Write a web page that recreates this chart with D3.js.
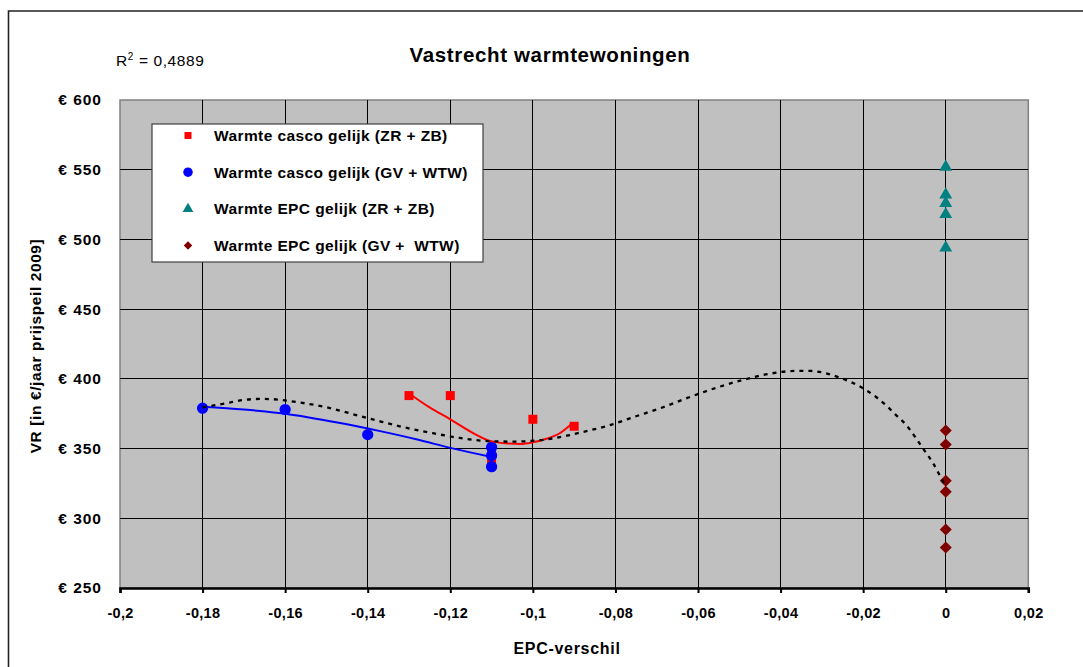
<!DOCTYPE html>
<html>
<head>
<meta charset="utf-8">
<script src="https://cdn.jsdelivr.net/npm/d3@7"></script>
<style>
  html, body { margin: 0; padding: 0; background: #fff; }
  svg { display: block; font-family: "Liberation Sans", Arial, sans-serif; }
</style>
</head>
<body>
<svg id="chart" width="1083" height="667"></svg>
<script>
// ---------- data ----------
const xTicks = [-0.2, -0.18, -0.16, -0.14, -0.12, -0.1, -0.08, -0.06, -0.04, -0.02, 0, 0.02];
const xTickLabels = ["-0,2", "-0,18", "-0,16", "-0,14", "-0,12", "-0,1", "-0,08", "-0,06", "-0,04", "-0,02", "0", "0,02"];
const yTicks = [250, 300, 350, 400, 450, 500, 550, 600];
const yTickLabels = ["€ 250", "€ 300", "€ 350", "€ 400", "€ 450", "€ 500", "€ 550", "€ 600"];

const seriesNames = ["Warmte casco gelijk (ZR + ZB)", "Warmte casco gelijk (GV + WTW)", "Warmte EPC gelijk (ZR + ZB)", "Warmte EPC gelijk (GV +  WTW)"];

const redX = [-0.13, -0.12, -0.11, -0.11, -0.1, -0.09];
const redY = [388, 388, 350, 342, 371, 366];

const blueX = [-0.18, -0.16, -0.14, -0.11, -0.11, -0.11];
const blueY = [379, 378, 360, 351, 345, 337];

const tealX = [0, 0, 0, 0, 0];
const tealY = [552, 532, 526, 518, 494];

const darkX = [0, 0, 0, 0, 0, 0];
const darkY = [363, 353, 327, 319, 292, 279];

// trendlines
const redTrendX = [-0.1297, -0.125, -0.12, -0.115, -0.1104, -0.106, -0.103, -0.1, -0.0965, -0.0935, -0.0905];
const redTrendY = [389, 379.5, 371, 362, 355.5, 353.6, 353.3, 354.5, 357.2, 361, 368];

const blueTrendX = [-0.18, -0.17, -0.16, -0.147, -0.137, -0.128, -0.12, -0.11];
const blueTrendY = [380, 378, 375, 368.5, 362.5, 356.5, 350.5, 344];

const allTrendX = [-0.18, -0.1734, -0.1697, -0.166, -0.163, -0.1564, -0.1499, -0.1435, -0.137, -0.1305, -0.1242, -0.1177, -0.1111, -0.1048, -0.0983, -0.0918, -0.0882, -0.0818, -0.0753, -0.0688, -0.0624, -0.0558, -0.0492, -0.0428, -0.0361, -0.0329, -0.0297, -0.0262, -0.0232, -0.0198, -0.0168, -0.0142, -0.0119, -0.0095, -0.0074, -0.0053, -0.0032, -0.0016, 0];
const allTrendY = [379.5, 383, 385, 385.6, 385.4, 383, 379.6, 374.6, 369.5, 364.8, 361, 357.6, 355.4, 355, 356, 359.2, 361.7, 366.4, 372.9, 379.3, 386.5, 393.4, 399.2, 403.6, 405.7, 405.7, 404.5, 401.4, 398, 392.8, 386.8, 380.3, 373.6, 366.7, 358.3, 349.2, 340.2, 331.6, 322.7];

// ---------- layout ----------
const svg = d3.select("#chart");
const L = 120, T = 100, R = 1028.3, B = 588;

const x = d3.scaleLinear().domain([-0.2, 0.02]).range([L, R]);
const y = d3.scaleLinear().domain([250, 600]).range([B, T]);

svg.append("rect").attr("width", 1083).attr("height", 667).attr("fill", "#fff");

// outer frame
svg.append("path").attr("d", "M8.5,667 V11 H1083").attr("fill", "none").attr("stroke", "#222").attr("stroke-width", 1.6);

// plot area
svg.append("rect").attr("x", L).attr("y", T).attr("width", R - L).attr("height", B - T)
  .attr("fill", "#c0c0c0").attr("stroke", "#808080").attr("stroke-width", 1.5);

// grid
const grid = svg.append("g").attr("shape-rendering", "crispEdges");
grid.selectAll("line.v").data(xTicks.slice(1, -1)).enter().append("line")
  .attr("x1", d => x(d)).attr("x2", d => x(d)).attr("y1", T).attr("y2", B)
  .attr("stroke", "#000").attr("stroke-width", 1);
grid.selectAll("line.h").data(yTicks.slice(1, -1)).enter().append("line")
  .attr("x1", L).attr("x2", R).attr("y1", d => y(d)).attr("y2", d => y(d))
  .attr("stroke", "#000").attr("stroke-width", 1);

// x axis
const xAxis = d3.axisBottom(x).tickValues(xTicks).tickSize(5).tickFormat((d, i) => xTickLabels[i]);
const gx = svg.append("g").attr("transform", `translate(0,${B})`).call(xAxis);
gx.select(".domain").attr("stroke", "#000").attr("stroke-width", 2.5);
gx.selectAll(".tick line").attr("stroke", "#000").attr("stroke-width", 2);
gx.selectAll(".tick text").attr("font-family", "Liberation Sans, Arial, sans-serif")
  .attr("font-size", 14.5).attr("letter-spacing", 0.3).attr("font-weight", "bold").attr("fill", "#000").attr("dy", "0").attr("y", 29.5);

// y axis labels
const yAxis = d3.axisLeft(y).tickValues(yTicks).tickSize(0).tickPadding(18).tickFormat((d, i) => yTickLabels[i]);
const gy = svg.append("g").attr("transform", `translate(${L},0)`).call(yAxis);
gy.select(".domain").remove();
gy.selectAll(".tick text").attr("font-family", "Liberation Sans, Arial, sans-serif")
  .attr("font-size", 15.5).attr("letter-spacing", 1.0).attr("font-weight", "bold").attr("fill", "#000");

// axis titles
svg.append("text").attr("x", 567).attr("y", 654).attr("text-anchor", "middle")
  .attr("font-size", 16).attr("letter-spacing", 0.7).attr("font-weight", "bold").text("EPC-verschil");
svg.append("text").attr("transform", "translate(41,346) rotate(-90)").attr("text-anchor", "middle")
  .attr("font-size", 15.5).attr("letter-spacing", 0.6).attr("font-weight", "bold").text("VR [in €/jaar prijspeil 2009]");

// title
svg.append("text").attr("x", 550).attr("y", 62).attr("text-anchor", "middle")
  .attr("font-size", 20.5).attr("letter-spacing", 0.65).attr("font-weight", "bold").text("Vastrecht warmtewoningen");

// R^2
const r2 = svg.append("text").attr("x", 116).attr("y", 66).attr("font-size", 15.5).attr("letter-spacing", 0.6);
r2.append("tspan").text("R");
r2.append("tspan").attr("dy", -6.5).attr("font-size", 10).text("2");
r2.append("tspan").attr("dy", 6.5).text(" = 0,4889");

// ---------- markers ----------
const pts = (xs, ys) => xs.map((d, i) => [d, ys[i]]);
const sym = (type, size) => d3.symbol().type(type).size(size)();

const plot = svg.append("g");
plot.selectAll("path.red").data(pts(redX, redY)).enter().append("path")
  .attr("d", sym(d3.symbolSquare, 81)).attr("transform", d => `translate(${x(d[0])},${y(d[1])})`).attr("fill", "#ff0000");
plot.selectAll("path.blue").data(pts(blueX, blueY)).enter().append("path")
  .attr("d", sym(d3.symbolCircle, 100)).attr("transform", d => `translate(${x(d[0])},${y(d[1])})`).attr("fill", "#0000ff");
plot.selectAll("path.teal").data(pts(tealX, tealY)).enter().append("path")
  .attr("d", sym(d3.symbolTriangle, 72)).attr("transform", d => `translate(${x(d[0])},${y(d[1])})`).attr("fill", "#008080");
plot.selectAll("path.dark").data(pts(darkX, darkY)).enter().append("path")
  .attr("d", sym(d3.symbolSquare, 72)).attr("transform", d => `translate(${x(d[0])},${y(d[1])}) rotate(45)`).attr("fill", "#800000");

// ---------- trendlines ----------
const line = d3.line().x(d => x(d[0])).y(d => y(d[1])).curve(d3.curveMonotoneX);
svg.append("path").attr("d", line(pts(blueTrendX, blueTrendY))).attr("fill", "none")
  .attr("stroke", "#0000ff").attr("stroke-width", 2);
svg.append("path").attr("d", line(pts(redTrendX, redTrendY))).attr("fill", "none")
  .attr("stroke", "#ff0000").attr("stroke-width", 2);
svg.append("path").attr("d", line(pts(allTrendX, allTrendY))).attr("fill", "none")
  .attr("stroke", "#000").attr("stroke-width", 2.3).attr("stroke-dasharray", "4,5");

// ---------- legend ----------
const lg = svg.append("g");
lg.append("rect").attr("x", 152).attr("y", 124).attr("width", 331).attr("height", 138)
  .attr("fill", "#fff").attr("stroke", "#404040").attr("stroke-width", 1.2);
const legendSyms = [
  [d3.symbolSquare, 49, "#ff0000", 0],
  [d3.symbolCircle, 70, "#0000ff", 0],
  [d3.symbolTriangle, 50, "#008080", 0],
  [d3.symbolSquare, 36, "#800000", 45]
];
seriesNames.forEach((name, i) => {
  const cy = 135.5 + i * 36.7;
  lg.append("path").attr("d", sym(legendSyms[i][0], legendSyms[i][1]))
    .attr("transform", `translate(188,${cy}) rotate(${legendSyms[i][3]})`).attr("fill", legendSyms[i][2]);
  lg.append("text").attr("x", 214).attr("y", cy + 5.5).attr("font-size", 15.5).attr("letter-spacing", 0.4)
    .attr("font-weight", "bold").attr("xml:space", "preserve").style("white-space", "pre").text(name);
});
</script>
</body>
</html>
